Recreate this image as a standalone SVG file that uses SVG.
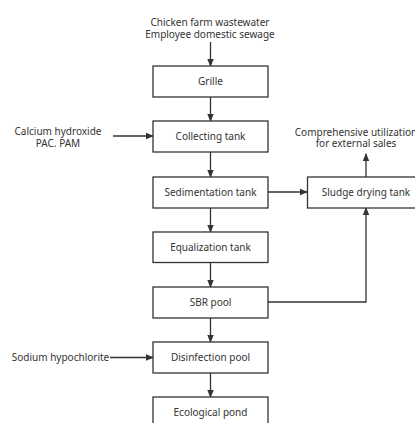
<svg xmlns="http://www.w3.org/2000/svg" width="415" height="423" viewBox="0 0 415 423">
<style>
.box{fill:#fff;stroke:#333;stroke-width:1.3}
.t{font-family:"Noto Sans","Open Sans",sans-serif;font-size:10px;fill:#333;text-anchor:middle}
.c{fill:none;stroke:#333;stroke-width:1.3}
</style>
<defs>
<marker id="ah" markerWidth="8" markerHeight="8" refX="7" refY="4" orient="auto" markerUnits="userSpaceOnUse">
<path d="M0,0.8 L8,4 L0,7.2 Z" fill="#333"/>
</marker>
</defs>
<rect width="415" height="423" fill="#fff"/>
<g id="connectors">
<path class="c" d="M210.5,42 V66" marker-end="url(#ah)"/>
<path class="c" d="M210.5,97 V121" marker-end="url(#ah)"/>
<path class="c" d="M113,136 H153" marker-end="url(#ah)"/>
<path class="c" d="M210.5,152 V177" marker-end="url(#ah)"/>
<path class="c" d="M268,192 H307" marker-end="url(#ah)"/>
<path class="c" d="M366,177 V154" marker-end="url(#ah)"/>
<path class="c" d="M210.5,208 V232" marker-end="url(#ah)"/>
<path class="c" d="M210.5,262.5 V287" marker-end="url(#ah)"/>
<path class="c" d="M268,302 H366 V208" marker-end="url(#ah)"/>
<path class="c" d="M210.5,318 V342" marker-end="url(#ah)"/>
<path class="c" d="M110,357.5 H153" marker-end="url(#ah)"/>
<path class="c" d="M210.5,373 V397" marker-end="url(#ah)"/>
</g>
<g id="inputs">
<text class="t" x="210" y="25.5">Chicken farm wastewater</text>
<text class="t" x="210" y="37.5">Employee domestic sewage</text>
</g>
<g id="chemicals">
<text class="t" x="58" y="135">Calcium hydroxide</text>
<text class="t" x="58" y="147">PAC. PAM</text>
</g>
<g id="external">
<text class="t" x="356" y="135.5">Comprehensive utilization</text>
<text class="t" x="356" y="147">for external sales</text>
</g>
<g id="hypochlorite">
<text class="t" x="60.5" y="361">Sodium hypochlorite</text>
</g>
<g id="grille"><rect class="box" x="153" y="66" width="115" height="31"/><text class="t" x="210.5" y="85">Grille</text></g>
<g id="collecting"><rect class="box" x="153" y="121" width="115" height="31"/><text class="t" x="210.5" y="140">Collecting tank</text></g>
<g id="sedimentation"><rect class="box" x="153" y="177" width="115" height="31"/><text class="t" x="210.5" y="196">Sedimentation tank</text></g>
<g id="sludge"><rect class="box" x="307.5" y="177" width="115" height="31"/><text class="t" x="366" y="196">Sludge drying tank</text></g>
<g id="equalization"><rect class="box" x="153" y="232" width="115" height="30.5"/><text class="t" x="210.5" y="250.5">Equalization tank</text></g>
<g id="sbr"><rect class="box" x="153" y="287" width="115" height="31"/><text class="t" x="210.5" y="305.5">SBR pool</text></g>
<g id="disinfection"><rect class="box" x="153" y="342" width="115" height="31"/><text class="t" x="210.5" y="361">Disinfection pool</text></g>
<g id="ecological"><rect class="box" x="153" y="397" width="115" height="31"/><text class="t" x="210.5" y="416">Ecological pond</text></g>
</svg>
